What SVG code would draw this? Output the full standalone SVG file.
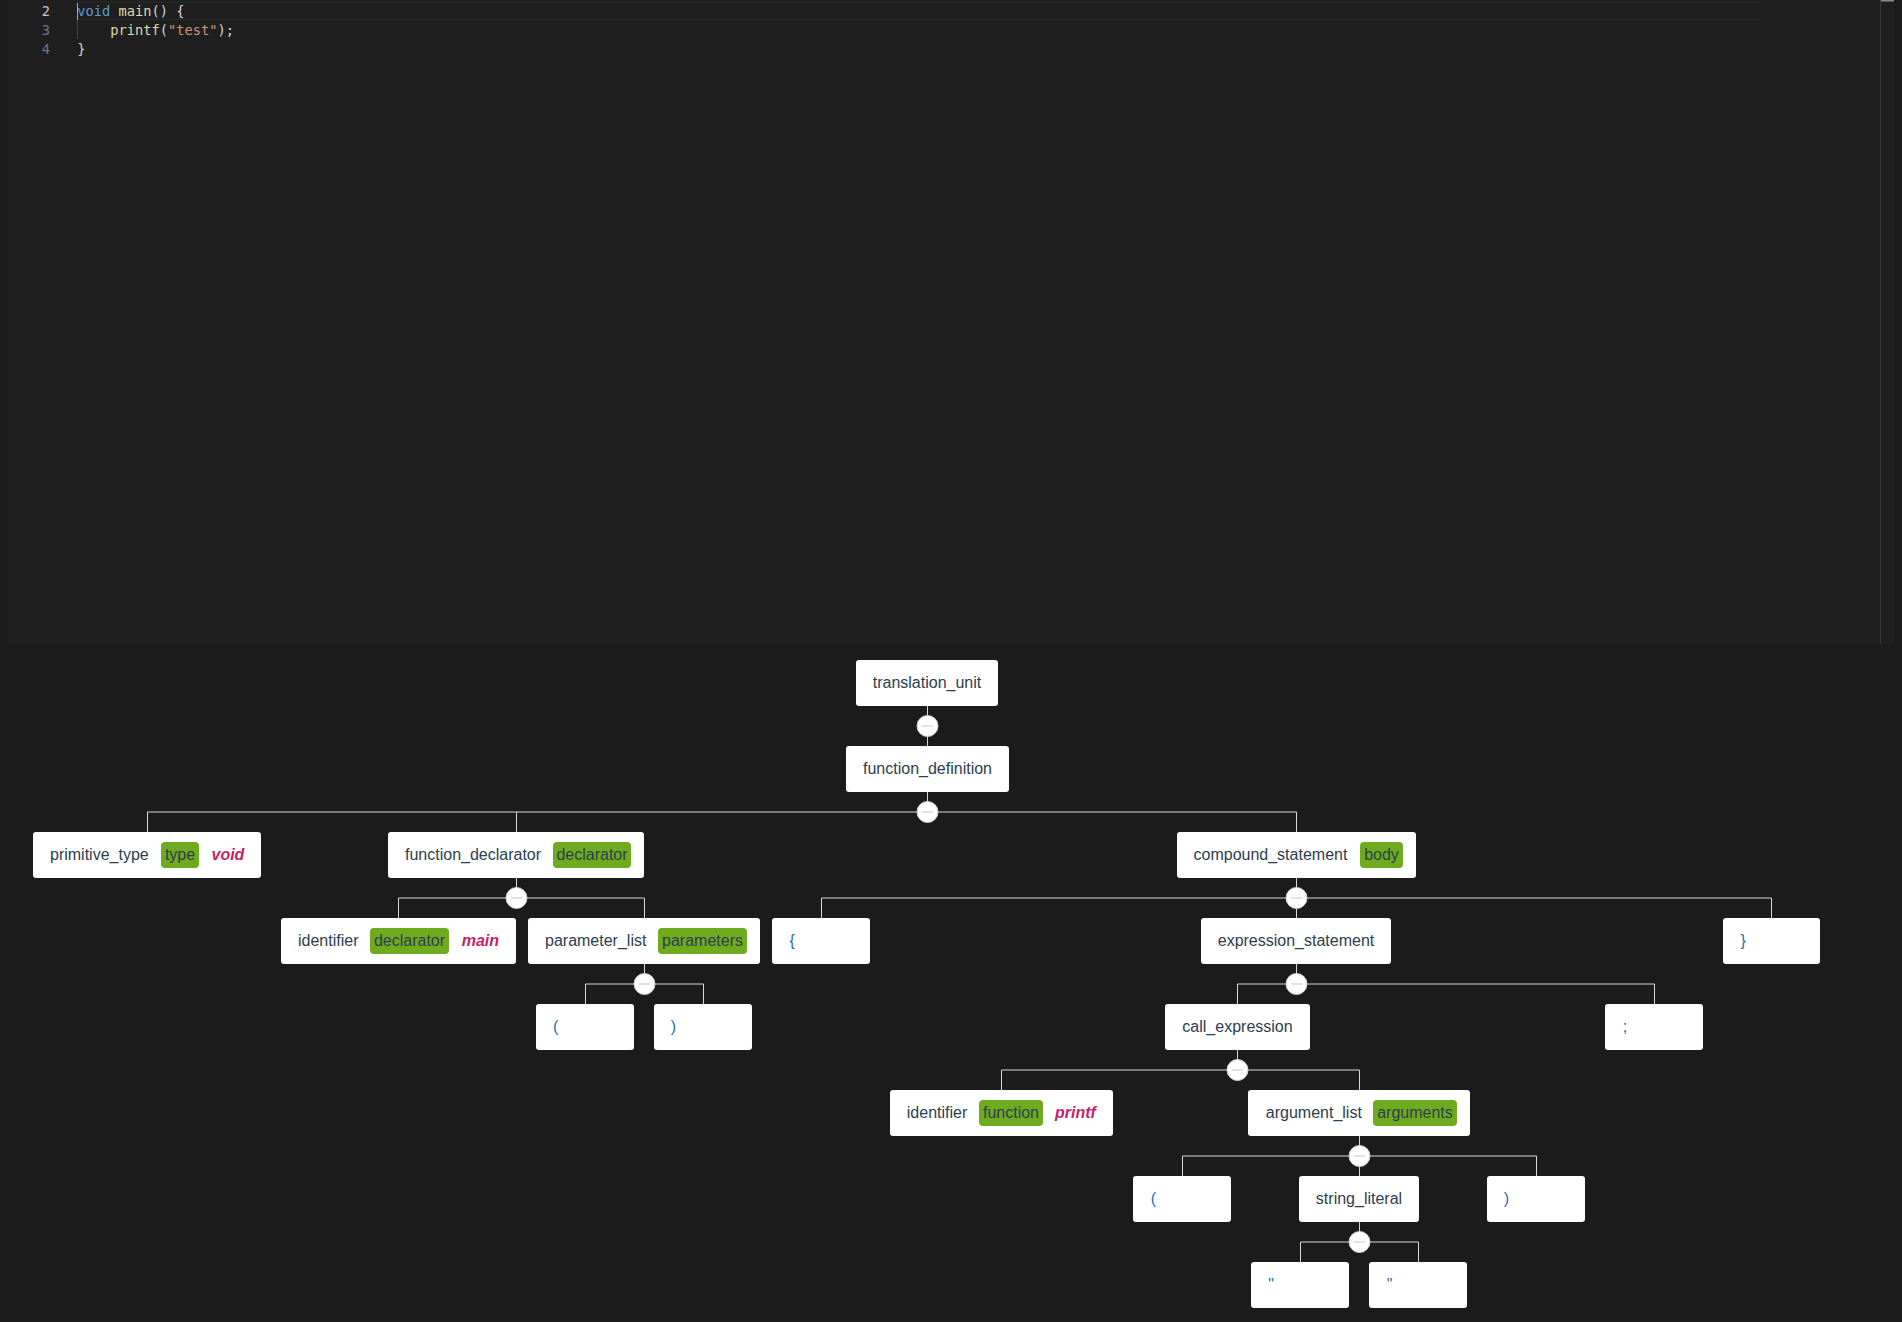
<svg xmlns="http://www.w3.org/2000/svg" width="1902" height="1322" viewBox="0 0 1902 1322">
<style>
.code{font-family:"DejaVu Sans Mono","Liberation Mono",monospace;font-size:13.7px;white-space:pre}
.ln{fill:#6e7681;text-anchor:end}
.ln2{fill:#c6c6c6;text-anchor:end}
.kw{fill:#569cd6}.fn{fill:#dcdcaa}.pu{fill:#d4d4d4}.st{fill:#ce9178}
.box{fill:#ffffff}
.lbl{font-family:"Liberation Sans",Arial,sans-serif;font-size:16px;fill:#2c3e50}
.leaf{font-family:"Liberation Sans",Arial,sans-serif;font-size:16px;fill:#2b6cb0}
.badge{fill:#6fab1e}
.btxt{font-family:"Liberation Sans",Arial,sans-serif;font-size:16px;fill:#2c3e50;text-anchor:middle}
.val{font-family:"Liberation Sans",Arial,sans-serif;font-size:16px;font-weight:bold;font-style:italic;fill:#c51f6a}
.edge{stroke:#d8d8d8;stroke-width:1;fill:none}
</style>
<defs>
<g id="toggle">
<circle cx="0" cy="0" r="10.5" fill="#ffffff" stroke="#cfcfcf" stroke-width="1"/>
<line x1="-5.5" y1="0" x2="5.5" y2="0" stroke="#c8c8c8" stroke-width="1"/>
</g>
</defs>
<rect x="0" y="0" width="1902" height="1322" fill="#1b1b1b"/>
<g id="editor">
<rect x="8" y="0" width="1886" height="644" fill="#1f1f1f"/>
<line x1="77" y1="2" x2="1760" y2="2" stroke="#292929" stroke-width="1.5"/>
<line x1="77" y1="19.5" x2="1760" y2="19.5" stroke="#292929" stroke-width="1.5"/>
<line x1="1880.5" y1="0" x2="1880.5" y2="644" stroke="#3a3a3a" stroke-width="1"/>
<rect x="1881" y="0" width="13" height="1.5" fill="#8a8a8a"/>
<line x1="77.5" y1="3" x2="77.5" y2="20" stroke="#aeafad" stroke-width="1"/>
<line x1="77.5" y1="20" x2="77.5" y2="39" stroke="#404040" stroke-width="1"/>
<text class="code ln2" x="50" y="16">2</text>
<text class="code ln" x="50" y="35.2">3</text>
<text class="code ln" x="50" y="54.4">4</text>
<text class="code" x="77.3" y="16"><tspan class="kw">void</tspan><tspan class="pu"> </tspan><tspan class="fn">main</tspan><tspan class="pu">() {</tspan></text>
<text class="code" x="110.3" y="35.2"><tspan class="fn">printf</tspan><tspan class="pu">(</tspan><tspan class="st">"test"</tspan><tspan class="pu">);</tspan></text>
<text class="code pu" x="77.3" y="54.4">}</text>
</g>
<g id="connectors">
<path class="edge" d="M927.5 706V746"/>
<path class="edge" d="M927.5 792V812M147.5 832V812H1296.5V832M516.5 812V832"/>
<path class="edge" d="M516.5 878V898M398.5 918V898H644.5V918"/>
<path class="edge" d="M1296.5 878V918M821.5 918V898H1771.5V918"/>
<path class="edge" d="M644.5 964V984M585.5 1004V984H703.5V1004"/>
<path class="edge" d="M1296.5 964V984M1237.5 1004V984H1654.5V1004"/>
<path class="edge" d="M1237.5 1050V1070M1001.5 1090V1070H1359.5V1090"/>
<path class="edge" d="M1359.5 1136V1176M1182.5 1176V1156H1536.5V1176"/>
<path class="edge" d="M1359.5 1222V1242M1300.5 1262V1242H1418.5V1262"/>
<use href="#toggle" x="927.5" y="726"/>
<use href="#toggle" x="927.5" y="812"/>
<use href="#toggle" x="516.5" y="898"/>
<use href="#toggle" x="1296.5" y="898"/>
<use href="#toggle" x="644.5" y="984"/>
<use href="#toggle" x="1296.5" y="984"/>
<use href="#toggle" x="1237.5" y="1070"/>
<use href="#toggle" x="1359.5" y="1156"/>
<use href="#toggle" x="1359.5" y="1242"/>
</g>
<g id="n-translation_unit"><rect class="box" x="856" y="660" width="142" height="46" rx="3"/><text class="lbl" x="927" y="688" text-anchor="middle">translation_unit</text></g>
<g id="n-function_definition"><rect class="box" x="846" y="746" width="163" height="46" rx="3"/><text class="lbl" x="927.5" y="774" text-anchor="middle">function_definition</text></g>
<g id="n-primitive_type"><rect class="box" x="33" y="832" width="228" height="46" rx="3"/><text class="lbl" x="50" y="860">primitive_type</text><rect class="badge" x="161" y="842" width="38" height="26" rx="4"/><text class="btxt" x="180" y="860">type</text><text class="val" x="211.5" y="860">void</text></g>
<g id="n-function_declarator"><rect class="box" x="388" y="832" width="256" height="46" rx="3"/><text class="lbl" x="405" y="860">function_declarator</text><rect class="badge" x="553" y="842" width="78" height="26" rx="4"/><text class="btxt" x="592" y="860">declarator</text></g>
<g id="n-compound_statement"><rect class="box" x="1177" y="832" width="239" height="46" rx="3"/><text class="lbl" x="1193.5" y="860">compound_statement</text><rect class="badge" x="1360" y="842" width="43" height="26" rx="4"/><text class="btxt" x="1381.5" y="860">body</text></g>
<g id="n-identifier-main"><rect class="box" x="281" y="918" width="235" height="46" rx="3"/><text class="lbl" x="298" y="946">identifier</text><rect class="badge" x="370" y="928" width="79" height="26" rx="4"/><text class="btxt" x="409.5" y="946">declarator</text><text class="val" x="461.7" y="946">main</text></g>
<g id="n-parameter_list"><rect class="box" x="528" y="918" width="232" height="46" rx="3"/><text class="lbl" x="545" y="946">parameter_list</text><rect class="badge" x="658" y="928" width="89" height="26" rx="4"/><text class="btxt" x="702.5" y="946">parameters</text></g>
<g id="n-lbrace"><rect class="box" x="772" y="918" width="98" height="46" rx="3"/><text class="leaf" x="789.5" y="946">{</text></g>
<g id="n-expression_statement"><rect class="box" x="1201" y="918" width="190" height="46" rx="3"/><text class="lbl" x="1296" y="946" text-anchor="middle">expression_statement</text></g>
<g id="n-rbrace"><rect class="box" x="1723" y="918" width="97" height="46" rx="3"/><text class="leaf" x="1740.5" y="946">}</text></g>
<g id="n-lparen1"><rect class="box" x="536" y="1004" width="98" height="46" rx="3"/><text class="leaf" x="553" y="1032">(</text></g>
<g id="n-rparen1"><rect class="box" x="654" y="1004" width="98" height="46" rx="3"/><text class="leaf" x="670.7" y="1032">)</text></g>
<g id="n-call_expression"><rect class="box" x="1165" y="1004" width="145" height="46" rx="3"/><text class="lbl" x="1237.5" y="1032" text-anchor="middle">call_expression</text></g>
<g id="n-semicolon"><rect class="box" x="1605" y="1004" width="98" height="46" rx="3"/><text class="leaf" x="1622.8" y="1032">;</text></g>
<g id="n-identifier-printf"><rect class="box" x="890" y="1090" width="223" height="46" rx="3"/><text class="lbl" x="906.8" y="1118">identifier</text><rect class="badge" x="979" y="1100" width="64" height="26" rx="4"/><text class="btxt" x="1011" y="1118">function</text><text class="val" x="1055" y="1118">printf</text></g>
<g id="n-argument_list"><rect class="box" x="1248" y="1090" width="222" height="46" rx="3"/><text class="lbl" x="1265.8" y="1118">argument_list</text><rect class="badge" x="1373" y="1100" width="84" height="26" rx="4"/><text class="btxt" x="1415" y="1118">arguments</text></g>
<g id="n-lparen2"><rect class="box" x="1133" y="1176" width="98" height="46" rx="3"/><text class="leaf" x="1150.7" y="1204">(</text></g>
<g id="n-string_literal"><rect class="box" x="1299" y="1176" width="120" height="46" rx="3"/><text class="lbl" x="1359" y="1204" text-anchor="middle">string_literal</text></g>
<g id="n-rparen2"><rect class="box" x="1487" y="1176" width="98" height="46" rx="3"/><text class="leaf" x="1503.7" y="1204">)</text></g>
<g id="n-quote1"><rect class="box" x="1251" y="1262" width="98" height="46" rx="3"/><text class="leaf" x="1268.3" y="1290">"</text></g>
<g id="n-quote2"><rect class="box" x="1369" y="1262" width="98" height="46" rx="3"/><text class="leaf" x="1386.7" y="1290">"</text></g>
</svg>
